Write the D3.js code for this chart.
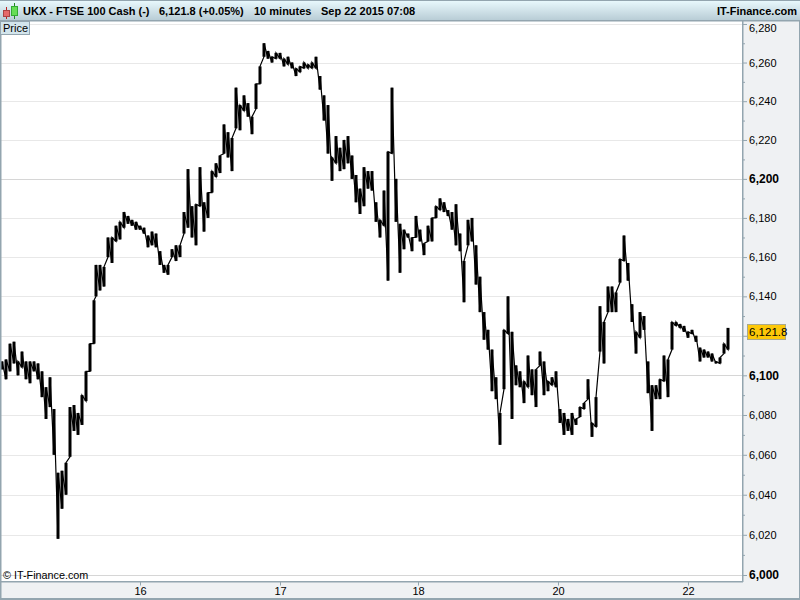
<!DOCTYPE html>
<html><head><meta charset="utf-8">
<style>html,body{margin:0;padding:0;background:#fff}svg{display:block}text{font-family:"Liberation Sans",Arial,sans-serif;fill:#000}</style>
<script src="https://cdn.jsdelivr.net/npm/d3@7/dist/d3.min.js"></script>
</head><body><svg id="c" width="800" height="600"></svg>
<script>
const barLow = [6103,6098,6102,6106,6100,6104,6098,6096,6102,6098,6089,6078,6084,6060,6018,6033,6040,6059,6072,6070,6075,6087,6102,6116,
6140,6143,6145,6160,6157,6168,6169,6175,6177,6176,6174,6174,6172,6165,6166,6165,6156,6152,6151,6160,6158,6160,6172,6175,
6170,6166,6186,6173,6180,6193,6201,6203,6213,6211,6204,6226,6225,6235,6232,6223,6236,6249,6263,6262,6260,6262,6262,6258,6259,6257,6253,6255,6257,6257,6257,6257,6246,6230,6213,6199,6208,6204,
6205,6208,6200,6188,6182,6186,6195,6194,6178,6170,6176,6148,6213,6178,6152,6164,6170,6163,6170,6168,6161,6168,6168,6180,6184,6183,6181,6174,6166,6163,6137,6166,6168,6146,6132,6118,6113,6092,6088,6065,6093,6121,6078,6095,6094,6086,6094,6090,6084,6105,6090,6092,6095,6094,6076,6070,6072,6070,6075,6079,6083,6088,6069,6074,
6112,6106,6132,6132,6132,6147,6158,6148,6127,6111,6119,6123,6091,6072,6088,6088,6097,6089,6113,6125,6124,6122,6119,6121,6117,6107,6109,6109,6107,6106,6106,6111,6113];
const barHigh = [6107,6108,6116,6117,6107,6112,6107,6107,6107,6106,6102,6094,6099,6083,6051,6052,6056,6084,6085,6081,6090,6102,6116,6138,
6156,6156,6155,6170,6170,6176,6178,6183,6181,6179,6178,6176,6175,6171,6173,6172,6163,6156,6156,6164,6166,6166,6183,6205,
6186,6187,6206,6188,6193,6204,6208,6212,6228,6224,6221,6247,6238,6243,6239,6232,6249,6258,6270,6266,6263,6265,6265,6262,6263,6260,6257,6258,6260,6259,6260,6263,6253,6243,6238,6211,6222,6216,
6220,6222,6212,6202,6195,6206,6204,6204,6188,6179,6194,6214,6247,6200,6177,6174,6172,6170,6181,6174,6167,6176,6180,6186,6190,6188,6184,6183,6187,6172,6158,6179,6180,6166,6150,6132,6123,6113,6099,6081,6123,6140,6122,6105,6102,6097,6110,6103,6103,6112,6107,6097,6099,6102,6083,6081,6078,6081,6078,6084,6086,6098,6076,6089,
6135,6127,6145,6145,6142,6159,6171,6157,6136,6122,6132,6130,6107,6095,6095,6098,6110,6108,6127,6127,6126,6125,6122,6123,6120,6114,6113,6112,6111,6107,6109,6116,6124];
const barNo = d3.range(2, 96, 4).concat(d3.range(96, 732, 4));
const yMajor = [6000,6020,6040,6060,6080,6100,6120,6140,6160,6180,6200,6220,6240,6260,6280];
const yMinor = [6010,6030,6050,6070,6090,6110,6130,6150,6170,6190,6210,6230,6250,6270];
const yStrong = [6000,6100,6200];
const yHidden = [6120];
const dayBars = [140,280,418,558,688];
const dayLabels = ["16","17","18","20","22"];
const lastPrice = 6121.8;

const svg = d3.select("#c");
const L=1,R=742,T=21,B=581;
const x = d3.scaleLinear().domain([0,742]).range([0,742]);
const y = d3.scaleLog().domain([6000,6280]).range([575,24]);

const defs = svg.append("defs");
const g = defs.append("linearGradient").attr("id","hd").attr("x1",0).attr("x2",0).attr("y1",0).attr("y2",1);
g.append("stop").attr("offset",0).attr("stop-color","#eafafe");
g.append("stop").attr("offset",1).attr("stop-color","#b9cdd6");

svg.append("rect").attr("width",800).attr("height",600).attr("fill","#eff1f3");
svg.append("rect").attr("x",L).attr("y",T).attr("width",R-L).attr("height",B-T).attr("fill","#fff");

// grid
svg.append("g").selectAll("line").data(yMajor).join("line")
  .attr("x1",L).attr("x2",R).attr("y1",d=>Math.round(y(d))+.5).attr("y2",d=>Math.round(y(d))+.5)
  .attr("stroke",d=>yStrong.includes(d)?"#d6d6d6":"#e8e8e8");

// series: each bar's range, joined to the next bar by a zigzag
const bars = barNo.map((b,i)=>({b,lo:barLow[i],hi:barHigh[i]}));
const zig = bars.flatMap(d=>[{b:d.b,v:d.lo},{b:d.b,v:d.hi}]);
svg.append("path").attr("fill","none").attr("stroke","#000").attr("stroke-width",1.2)
  .attr("d",d3.line().x(d=>x(d.b)).y(d=>y(d.v))(zig));
svg.append("g").selectAll("rect").data(bars).join("rect")
  .attr("x",d=>x(d.b)-1.5).attr("width",3)
  .attr("y",d=>y(d.hi)).attr("height",d=>Math.max(1,y(d.lo)-y(d.hi)))
  .attr("fill","#000");

// frame
svg.append("rect").attr("x",0).attr("y",0).attr("width",1.5).attr("height",600).attr("fill","#93a5af");
svg.append("rect").attr("x",R).attr("y",T).attr("width",1.5).attr("height",B-T+1).attr("fill","#93a5af");
svg.append("rect").attr("x",0).attr("y",B).attr("width",R+1).attr("height",1.5).attr("fill","#93a5af");
svg.append("rect").attr("x",0).attr("y",598).attr("width",800).attr("height",2).attr("fill","#93a5af");
svg.append("rect").attr("x",799).attr("y",0).attr("width",1).attr("height",600).attr("fill","#93a5af");

// header
svg.append("rect").attr("x",0).attr("y",0).attr("width",800).attr("height",20).attr("fill","url(#hd)");
svg.append("rect").attr("x",0).attr("y",0).attr("width",800).attr("height",1).attr("fill","#93a5af");
svg.append("rect").attr("x",0).attr("y",20).attr("width",800).attr("height",1.5).attr("fill","#93a5af");
const ic = svg.append("g");
ic.append("line").attr("x1",6.5).attr("x2",6.5).attr("y1",7).attr("y2",19).attr("stroke","#b22");
ic.append("rect").attr("x",3.5).attr("y",10.5).attr("width",6).attr("height",6).attr("fill","#e66a6a").attr("stroke","#a44");
ic.append("line").attr("x1",14.5).attr("x2",14.5).attr("y1",3).attr("y2",19).attr("stroke","#282");
ic.append("rect").attr("x",11.5).attr("y",6.5).attr("width",6).attr("height",9).attr("fill","#66dd55").attr("stroke","#3a3");

const hdr=(t,xp,a)=>svg.append("text").attr("x",xp).attr("y",15).attr("font-size",11).attr("font-weight","bold").attr("text-anchor",a||"start").text(t);
hdr("UKX - FTSE 100 Cash (-)",23);
hdr("6,121.8 (+0.05%)",159);
hdr("10 minutes",254);
hdr("Sep 22 2015 07:08",321);
hdr("IT-Finance.com",797,"end");

// Price tab
svg.append("rect").attr("x",.5).attr("y",21.5).attr("width",29).attr("height",13).attr("fill","#d3e5ec").attr("stroke","#93a5af");
svg.append("text").attr("x",3).attr("y",32).attr("font-size",11).text("Price");

// y axis
const yAxis = d3.axisRight(y).tickValues(yMajor).tickFormat(d=>yHidden.includes(d)?"":d3.format(",")(d)).tickSize(4).tickPadding(2);
const ya = svg.append("g").attr("transform",`translate(${R+1},0)`).call(yAxis);
ya.select(".domain").remove();
ya.selectAll(".tick line").attr("stroke","#93a5af");
ya.selectAll(".tick text")
  .attr("font-size",d=>yStrong.includes(d)?12:11)
  .attr("font-weight",d=>yStrong.includes(d)?"bold":"normal")
  .attr("font-family",'"Liberation Sans",Arial,sans-serif').attr("fill","#000")
  .attr("dy",d=>d===yMajor[yMajor.length-1]?"0.65em":"0.32em");
const ym = d3.axisRight(y).tickValues(yMinor).tickFormat("").tickSize(2);
const ymg = svg.append("g").attr("transform",`translate(${R+1},0)`).call(ym);
ymg.select(".domain").remove();
ymg.selectAll(".tick line").attr("stroke","#93a5af");

// last price
svg.append("rect").attr("x",747.5).attr("y",Math.round(y(lastPrice))-7.5).attr("width",38).attr("height",15).attr("fill","#fdc808").attr("stroke","#a9a98c");
svg.append("text").attr("x",749).attr("y",y(lastPrice)+4).attr("font-size",11.5).text(d3.format(",.1f")(lastPrice));

// x axis
const xs = d3.scaleOrdinal().domain(dayBars).range(dayLabels);
const xAxis = d3.axisBottom(x).tickValues(dayBars).tickFormat(d=>xs(d)).tickSize(4).tickPadding(2);
const xa = svg.append("g").attr("transform",`translate(0,${B+.5})`).call(xAxis);
xa.select(".domain").remove();
xa.selectAll(".tick line").attr("stroke","#93a5af");
xa.selectAll(".tick text").attr("font-size",11).attr("font-family",'"Liberation Sans",Arial,sans-serif').attr("fill","#000");

svg.append("text").attr("x",3).attr("y",579).attr("font-size",10.8).text("© IT-Finance.com");
</script></body></html>
